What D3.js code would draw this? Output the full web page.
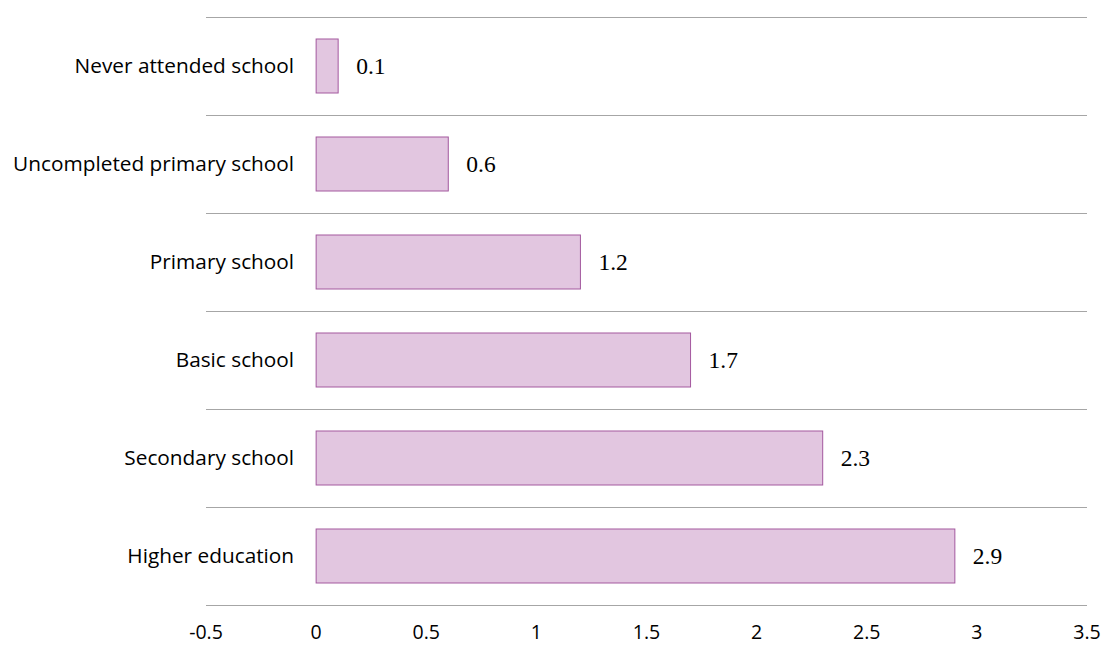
<!DOCTYPE html>
<html><head><meta charset="utf-8">
<script src="https://cdn.jsdelivr.net/npm/d3@7"></script>
<style>body{margin:0;background:#fff;}</style>
</head><body>
<svg id="c" width="1105" height="646"></svg>
<script>
const categories = ["Never attended school","Uncompleted primary school","Primary school","Basic school","Secondary school","Higher education"];
const values = [0.1, 0.6, 1.2, 1.7, 2.3, 2.9];
const xTicks = [-0.5, 0, 0.5, 1, 1.5, 2, 2.5, 3, 3.5];

const svg = d3.select("#c");
const x = d3.scaleLinear().domain([-0.5, 3.5]).range([206, 1087]);
const y = d3.scaleBand().domain(categories).range([17, 605]).paddingInner(0.449).paddingOuter(0.2245);

const bounds = categories.map(c => y(c) - y.step()*y.paddingInner()/2);
bounds.push(605);
svg.append("g").selectAll("line").data(bounds).join("line")
  .attr("x1", x(-0.5)).attr("x2", x(3.5))
  .attr("y1", d => Math.round(d)+0.5).attr("y2", d => Math.round(d)+0.5)
  .attr("stroke", "#a6a6a6").attr("stroke-width", 1.2);

svg.append("g").selectAll("rect").data(values).join("rect")
  .attr("x", x(0)).attr("y", (d,i) => y(categories[i]))
  .attr("width", d => x(d) - x(0)).attr("height", y.bandwidth())
  .attr("fill", "#e2c6e0").attr("stroke", "#a3589e").attr("stroke-width", 1);

svg.append("g").selectAll("text").data(values).join("text")
  .attr("x", d => x(d) + 18).attr("y", (d,i) => y(categories[i]) + y.bandwidth()/2)
  .attr("dy", "0.35em")
  .attr("font-family", "'Liberation Serif','DejaVu Serif',serif").attr("font-size", 23.5)
  .attr("fill", "#000").text(d => d);

svg.append("g").selectAll("text").data(categories).join("text")
  .attr("x", x(0) - 22).attr("y", d => y(d) + y.bandwidth()/2)
  .attr("dy", "0.35em").attr("text-anchor", "end")
  .attr("font-family", "'Open Sans', sans-serif").attr("font-size", 20.8)
  .attr("fill", "#000").text(d => d);

svg.append("g").selectAll("text").data(xTicks).join("text")
  .attr("x", d => x(d)).attr("y", 632).attr("dy", "0.35em")
  .attr("text-anchor", "middle")
  .attr("font-family", "'Open Sans', sans-serif").attr("font-size", 19.5)
  .attr("fill", "#000").text(d => d);
</script>
</body></html>
